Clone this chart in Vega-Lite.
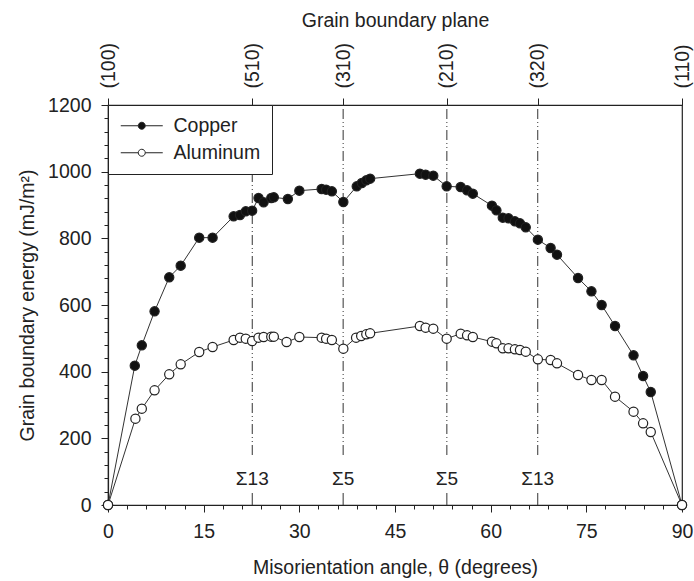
{
  "$schema": "https://vega.github.io/schema/vega-lite/v6.json",
  "width": 574,
  "height": 400,
  "autosize": "none",
  "padding": {"left": 108, "top": 105, "right": 12, "bottom": 76},
  "background": "white",
  "config": {
    "font": "Liberation Sans",
    "view": {"stroke": "#222", "strokeWidth": 1.2},
    "axis": {"domainColor": "#222", "tickColor": "#222", "labelColor": "#222", "titleColor": "#222", "labelFont": "Liberation Sans", "titleFont": "Liberation Sans", "labelFontSize": 19.5, "titleFontSize": 19.5, "titleFontWeight": "normal", "grid": false, "domainWidth": 1.2, "tickWidth": 1}
  },
  "resolve": {"axis": {"x": "independent", "y": "independent"}},
  "datasets": {
    "energy": [
      {"material": "Copper", "angle": 0, "energy": 0},
      {"material": "Copper", "angle": 4.2, "energy": 418},
      {"material": "Copper", "angle": 5.3, "energy": 479},
      {"material": "Copper", "angle": 7.3, "energy": 581},
      {"material": "Copper", "angle": 9.6, "energy": 683},
      {"material": "Copper", "angle": 11.4, "energy": 718},
      {"material": "Copper", "angle": 14.3, "energy": 802},
      {"material": "Copper", "angle": 16.4, "energy": 802},
      {"material": "Copper", "angle": 19.7, "energy": 866},
      {"material": "Copper", "angle": 20.7, "energy": 870},
      {"material": "Copper", "angle": 21.6, "energy": 881},
      {"material": "Copper", "angle": 22.6, "energy": 883},
      {"material": "Copper", "angle": 23.6, "energy": 921},
      {"material": "Copper", "angle": 24.4, "energy": 908},
      {"material": "Copper", "angle": 25.6, "energy": 921},
      {"material": "Copper", "angle": 26.0, "energy": 923},
      {"material": "Copper", "angle": 28.2, "energy": 918},
      {"material": "Copper", "angle": 30.0, "energy": 943},
      {"material": "Copper", "angle": 33.5, "energy": 948},
      {"material": "Copper", "angle": 34.2, "energy": 946},
      {"material": "Copper", "angle": 35.1, "energy": 941},
      {"material": "Copper", "angle": 36.9, "energy": 909},
      {"material": "Copper", "angle": 39.0, "energy": 956},
      {"material": "Copper", "angle": 39.8, "energy": 966},
      {"material": "Copper", "angle": 40.5, "energy": 974},
      {"material": "Copper", "angle": 41.1, "energy": 979},
      {"material": "Copper", "angle": 48.9, "energy": 994},
      {"material": "Copper", "angle": 49.8, "energy": 991},
      {"material": "Copper", "angle": 51.0, "energy": 988},
      {"material": "Copper", "angle": 53.1, "energy": 956},
      {"material": "Copper", "angle": 55.3, "energy": 954},
      {"material": "Copper", "angle": 56.3, "energy": 944},
      {"material": "Copper", "angle": 57.2, "energy": 934},
      {"material": "Copper", "angle": 60.2, "energy": 898},
      {"material": "Copper", "angle": 60.9, "energy": 884},
      {"material": "Copper", "angle": 61.9, "energy": 862},
      {"material": "Copper", "angle": 62.8, "energy": 860},
      {"material": "Copper", "angle": 63.8, "energy": 851},
      {"material": "Copper", "angle": 64.6, "energy": 845},
      {"material": "Copper", "angle": 65.5, "energy": 833},
      {"material": "Copper", "angle": 67.4, "energy": 796},
      {"material": "Copper", "angle": 69.4, "energy": 771},
      {"material": "Copper", "angle": 70.4, "energy": 751},
      {"material": "Copper", "angle": 73.7, "energy": 681},
      {"material": "Copper", "angle": 75.8, "energy": 641},
      {"material": "Copper", "angle": 77.4, "energy": 600},
      {"material": "Copper", "angle": 79.5, "energy": 537},
      {"material": "Copper", "angle": 82.4, "energy": 449},
      {"material": "Copper", "angle": 83.9, "energy": 387},
      {"material": "Copper", "angle": 85.1, "energy": 339},
      {"material": "Copper", "angle": 90, "energy": 0},
      {"material": "Aluminum", "angle": 0, "energy": 0},
      {"material": "Aluminum", "angle": 4.3, "energy": 259},
      {"material": "Aluminum", "angle": 5.3, "energy": 289},
      {"material": "Aluminum", "angle": 7.3, "energy": 344},
      {"material": "Aluminum", "angle": 9.6, "energy": 392},
      {"material": "Aluminum", "angle": 11.4, "energy": 422},
      {"material": "Aluminum", "angle": 14.3, "energy": 459},
      {"material": "Aluminum", "angle": 16.4, "energy": 474},
      {"material": "Aluminum", "angle": 19.7, "energy": 495},
      {"material": "Aluminum", "angle": 20.7, "energy": 502},
      {"material": "Aluminum", "angle": 21.6, "energy": 499},
      {"material": "Aluminum", "angle": 22.6, "energy": 492},
      {"material": "Aluminum", "angle": 23.6, "energy": 502},
      {"material": "Aluminum", "angle": 24.4, "energy": 504},
      {"material": "Aluminum", "angle": 25.6, "energy": 505},
      {"material": "Aluminum", "angle": 26.0, "energy": 505},
      {"material": "Aluminum", "angle": 28.0, "energy": 489},
      {"material": "Aluminum", "angle": 30.0, "energy": 504},
      {"material": "Aluminum", "angle": 33.5, "energy": 502},
      {"material": "Aluminum", "angle": 34.2, "energy": 499},
      {"material": "Aluminum", "angle": 35.1, "energy": 495},
      {"material": "Aluminum", "angle": 36.9, "energy": 469},
      {"material": "Aluminum", "angle": 38.9, "energy": 502},
      {"material": "Aluminum", "angle": 39.7, "energy": 507},
      {"material": "Aluminum", "angle": 40.5, "energy": 512},
      {"material": "Aluminum", "angle": 41.1, "energy": 515},
      {"material": "Aluminum", "angle": 48.9, "energy": 537},
      {"material": "Aluminum", "angle": 49.8, "energy": 532},
      {"material": "Aluminum", "angle": 51.0, "energy": 529},
      {"material": "Aluminum", "angle": 53.1, "energy": 499},
      {"material": "Aluminum", "angle": 55.3, "energy": 514},
      {"material": "Aluminum", "angle": 56.3, "energy": 509},
      {"material": "Aluminum", "angle": 57.2, "energy": 504},
      {"material": "Aluminum", "angle": 60.2, "energy": 490},
      {"material": "Aluminum", "angle": 60.9, "energy": 485},
      {"material": "Aluminum", "angle": 61.9, "energy": 470},
      {"material": "Aluminum", "angle": 62.8, "energy": 470},
      {"material": "Aluminum", "angle": 63.8, "energy": 467},
      {"material": "Aluminum", "angle": 64.6, "energy": 465},
      {"material": "Aluminum", "angle": 65.5, "energy": 460},
      {"material": "Aluminum", "angle": 67.4, "energy": 437},
      {"material": "Aluminum", "angle": 69.4, "energy": 435},
      {"material": "Aluminum", "angle": 70.4, "energy": 425},
      {"material": "Aluminum", "angle": 73.7, "energy": 390},
      {"material": "Aluminum", "angle": 75.8, "energy": 375},
      {"material": "Aluminum", "angle": 77.4, "energy": 375},
      {"material": "Aluminum", "angle": 79.5, "energy": 325},
      {"material": "Aluminum", "angle": 82.4, "energy": 280},
      {"material": "Aluminum", "angle": 83.9, "energy": 245},
      {"material": "Aluminum", "angle": 85.1, "energy": 219},
      {"material": "Aluminum", "angle": 90, "energy": 0}
    ],
    "sigma": [
      {"angle": 22.62, "label": "Σ13"},
      {"angle": 36.87, "label": "Σ5"},
      {"angle": 53.13, "label": "Σ5"},
      {"angle": 67.38, "label": "Σ13"}
    ]
  },
  "layer": [
    {
      "data": {"name": "energy"},
      "mark": {"type": "line", "color": "#333", "strokeWidth": 1},
      "encoding": {
        "x": {"field": "angle", "type": "quantitative", "scale": {"domain": [0, 90], "nice": false},
          "axis": {"orient": "bottom", "values": [0, 15, 30, 45, 60, 75, 90], "tickSize": 7,
            "labelPadding": 10, "labelFlush": false, "labelOverlap": false,
            "title": "Misorientation angle, θ (degrees)", "titlePadding": 18}},
        "y": {"field": "energy", "type": "quantitative", "scale": {"domain": [0, 1200], "nice": false},
          "axis": {"orient": "left", "values": [0, 200, 400, 600, 800, 1000, 1200], "format": "d", "tickSize": 7,
            "labelPadding": 10, "labelFlush": false, "labelOverlap": false,
            "title": "Grain boundary energy (mJ/m²)", "titlePadding": 10}},
        "detail": {"field": "material"}
      }
    },
    {
      "data": {"name": "sigma"},
      "mark": {"type": "rule", "color": "#333", "strokeWidth": 1, "strokeDash": [10, 3, 1, 3, 1, 3]},
      "encoding": {
        "x": {"field": "angle", "type": "quantitative",
          "axis": {"orient": "top", "values": [0, 22.62, 36.87, 53.13, 67.38, 90],
            "labelExpr": "datum.value < 1 ? '(100)' : datum.value < 30 ? '(510)' : datum.value < 45 ? '(310)' : datum.value < 60 ? '(210)' : datum.value < 80 ? '(320)' : '(110)'",
            "labelAngle": -90, "labelAlign": "left", "labelBaseline": "middle", "tickSize": 7, "labelPadding": 10,
            "title": "Grain boundary plane", "titlePadding": 12, "labelFlush": false, "labelOverlap": false}},
        "y": {"datum": 150, "type": "quantitative",
          "axis": {"orient": "left", "values": [0,40,80,120,160,240,280,320,360,440,480,520,560,640,680,720,760,840,880,920,960,1040,1080,1120,1160],
            "labels": false, "domain": false, "tickSize": 4, "title": null}},
        "y2": {"datum": 1200}
      }
    },
    {
      "data": {"name": "sigma"},
      "mark": {"type": "rule", "color": "#333", "strokeWidth": 1},
      "encoding": {
        "x": {"field": "angle", "type": "quantitative",
          "axis": {"orient": "bottom", "values": [3,6,9,12,18,21,24,27,33,36,39,42,48,51,54,57,63,66,69,72,78,81,84,87],
            "labels": false, "domain": false, "tickSize": 4, "title": null}},
        "y": {"datum": 0, "type": "quantitative", "axis": null},
        "y2": {"datum": 36}
      }
    },
    {
      "data": {"name": "sigma"},
      "mark": {"type": "text", "font": "Liberation Sans", "fontSize": 19, "color": "#222", "baseline": "middle"},
      "encoding": {
        "x": {"field": "angle", "type": "quantitative", "axis": null},
        "y": {"datum": 79, "type": "quantitative", "axis": null},
        "text": {"field": "label"}
      }
    },
    {
      "data": {"name": "energy"},
      "mark": {"type": "point", "shape": "circle", "filled": false, "size": 85, "stroke": "#222", "strokeWidth": 1.2, "opacity": 1},
      "encoding": {
        "x": {"field": "angle", "type": "quantitative", "axis": null},
        "y": {"field": "energy", "type": "quantitative", "axis": null},
        "fill": {"field": "material", "type": "nominal", "sort": null,
          "scale": {"domain": ["Copper", "Aluminum"], "range": ["#111", "white"]},
          "legend": {"orient": "top-left", "offset": 0, "title": null, "strokeColor": "#222", "fillColor": "white",
            "padding": 11, "symbolType": "M-6,0H-1M1,0H6M-1,0A1,1,0,1,1,1,0A1,1,0,1,1,-1,0Z",
            "symbolSize": 49, "symbolStrokeColor": "#222", "symbolStrokeWidth": 1, "symbolOffset": 13,
            "labelOffset": 22, "labelFont": "Liberation Sans", "labelFontSize": 19.5, "labelColor": "#222",
            "rowPadding": 6, "labelLimit": 300}}
      }
    }
  ]
}
